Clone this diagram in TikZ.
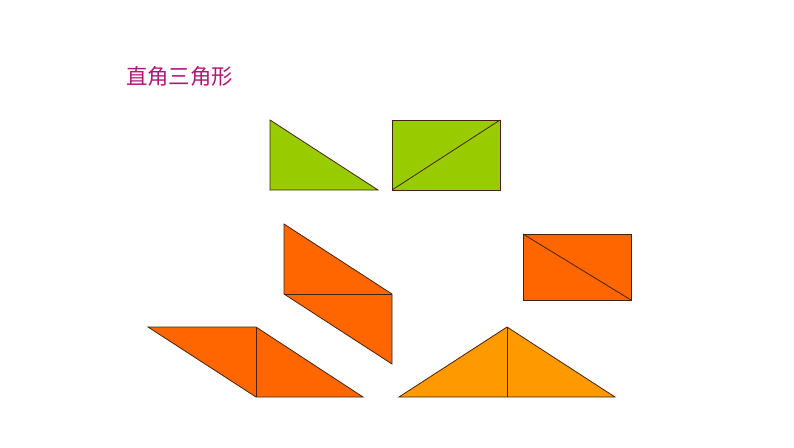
\documentclass[tikz,border=0pt]{standalone}
\usepackage{fontspec}
\newfontfamily\cjk{Noto Sans CJK SC}
\definecolor{lime}{RGB}{153,204,0}
\definecolor{orng}{RGB}{255,102,0}
\definecolor{lorng}{RGB}{255,153,0}
\definecolor{titlecol}{RGB}{180,20,120}
\definecolor{edge}{RGB}{70,35,10}
\begin{document}
\begin{tikzpicture}[x=1pt,y=-1pt,
  piece/.style={draw=edge,line width=0.8pt,line join=miter},
  seam/.style={draw=edge,line width=0.8pt}]
\useasboundingbox (0,0) rectangle (794,447);
\node (title) at (179.5,76.5) {\cjk\fontsize{21.4pt}{24pt}\selectfont\color{titlecol}直角三角形};
% green triangle
\filldraw[piece,fill=lime] (270,120) -- (270,190) -- (378,190) -- cycle;
% green rectangle
\filldraw[piece,fill=lime] (392,120) rectangle (500,190);
\coordinate (g1) at (392,190); \coordinate (g2) at (500,120);
\draw[seam] (g1) -- (g2);
% upper parallelogram
\filldraw[piece,fill=orng] (284,224) -- (392,294) -- (392,364) -- (284,294) -- cycle;
\coordinate (p1) at (284,294); \coordinate (p2) at (392,294);
\draw[seam] (p1) -- (p2);
% lower parallelogram
\filldraw[piece,fill=orng] (148,327) -- (256,327) -- (363,397) -- (256,397) -- cycle;
\coordinate (q1) at (256,327); \coordinate (q2) at (256,397);
\draw[seam] (q1) -- (q2);
% orange rectangle
\filldraw[piece,fill=orng] (523,234) rectangle (631,300);
\coordinate (r1) at (523,234); \coordinate (r2) at (631,300);
\draw[seam] (r1) -- (r2);
% light orange triangle
\filldraw[piece,fill=lorng] (507,327) -- (615,397) -- (399,397) -- cycle;
\coordinate (t1) at (507,327); \coordinate (t2) at (507,397);
\draw[seam] (t1) -- (t2);
\end{tikzpicture}
\end{document}
